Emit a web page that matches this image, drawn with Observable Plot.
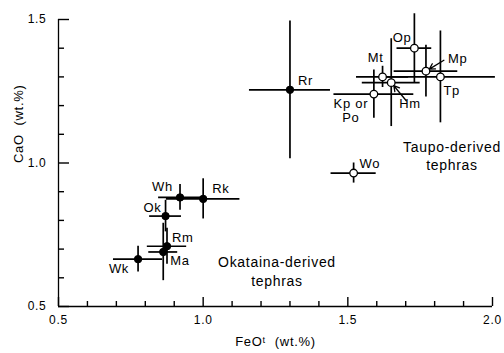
<!DOCTYPE html>
<html><head><meta charset="utf-8">
<script src="https://cdn.jsdelivr.net/npm/d3@7"></script>
<script src="https://cdn.jsdelivr.net/npm/@observablehq/plot@0.6"></script>
<style>
html,body{margin:0;padding:0;background:#fff;}
#chart svg{display:block;}
#chart svg text{letter-spacing:0.7px;}
</style></head><body><div id="chart"></div>
<script>
// ---- data ----
const names  = ["Rr","Op","Mt","Mp","Tp","Hm","Kp or\nPo","Wo","Wh","Rk","Ok","Rm","Ma","Wk"];
const feo    = [1.30, 1.73, 1.62, 1.77, 1.82, 1.65, 1.59, 1.52, 0.92, 1.00, 0.87, 0.875, 0.862, 0.775];
const cao    = [1.255,1.40, 1.30, 1.32, 1.30, 1.28, 1.24, 0.965,0.88, 0.875,0.815,0.71, 0.69, 0.665];
const feoErr = [0.14, 0.06, 0.09, 0.11, 0.19, 0.10, 0.138,0.078,0.074,0.127,0.055,0.068,0.05, 0.085];
const caoErr = [0.24, 0.12, 0.037,0.09, 0.16, 0.153,0.084,0.035,0.045,0.07, 0.055,0.063,0.10, 0.045];
const filled = [true, false,false,false,false,false,false,false,true, true, true, true, true, true];

const annotText = ["Taupo-derived\ntephras", "Okataina-derived\ntephras"];
const annotFeO  = [1.86, 1.255];
const annotCaO  = [1.028, 0.625];

const xLabel = "FeOᵗ  (wt.%)";
const yLabel = "CaO  (wt.%)";
const xMajorTicks = [0.5, 1.0, 1.5, 2.0];
const xMinorTicks = [0.6,0.7,0.8,0.9,1.1,1.2,1.3,1.4,1.6,1.7,1.8,1.9];
const yMajorTicks = [0.5, 1.0, 1.5];
const yMinorTicks = [0.6,0.7,0.8,0.9,1.1,1.2,1.3,1.4];
const xDomain = [0.5, 2.0];
const yDomain = [0.5, 1.5];

// ---- layout ----
const W = 504, H = 353, mL = 58, mR = 12, mT = 19, mB = 47;
const innerW = W - mL - mR, innerH = H - mT - mB;
// tick lengths (px) converted to data units along the perpendicular axis
const yPerPx = (yDomain[1] - yDomain[0]) / innerH;
const xPerPx = (xDomain[1] - xDomain[0]) / innerW;
// label offsets in px: [dx, dy, textAnchor]
const labelLayout = {
  "Rr": [8, -9, "start"],
  "Op": [-3, -11, "end"],
  "Mt": [-7, -19, "middle"],
  "Mp": [22, -13, "start"],
  "Tp": [3, 14, "start"],
  "Hm": [8, 21, "start"],
  "Kp or\nPo": [-23, 16, "middle"],
  "Wo": [6, -10, "start"],
  "Wh": [-7, -11, "end"],
  "Rk": [9, -10, "start"],
  "Ok": [-4, -9, "end"],
  "Rm": [5, -9, "start"],
  "Ma": [7, 8, "start"],
  "Wk": [-9, 9, "end"]
};
// arrow tails relative to the point (data units)
const arrowTails = { "Mp": [0.062, 0.038], "Hm": [0.052, -0.063] };

const data = names.map((n, i) => ({name: n, x: feo[i], y: cao[i], ex: feoErr[i], ey: caoErr[i], filled: filled[i]}));
const annots = annotText.map((t, i) => ({text: t, x: annotFeO[i], y: annotCaO[i]}));

const font = "'Liberation Sans', Arial, Helvetica, sans-serif";
const tickStyle = {stroke: "black", strokeWidth: 1.4};
const marks = [
  Plot.ruleX([xDomain[0]], {stroke: "black", strokeWidth: 1.3}),
  Plot.ruleY([yDomain[0]], {stroke: "black", strokeWidth: 1.3}),
  // inward ticks
  Plot.ruleX(xMinorTicks, {x: d => d, y1: yDomain[0], y2: yDomain[0] + 5 * yPerPx, ...tickStyle}),
  Plot.ruleX(xMajorTicks, {x: d => d, y1: yDomain[0], y2: yDomain[0] + 9 * yPerPx, ...tickStyle}),
  Plot.ruleY(yMinorTicks, {y: d => d, x1: xDomain[0], x2: xDomain[0] + 6 * xPerPx, ...tickStyle}),
  Plot.ruleY(yMajorTicks, {y: d => d, x1: xDomain[0], x2: xDomain[0] + 11 * xPerPx, ...tickStyle}),
  // tick labels
  Plot.axisX(xMajorTicks, {anchor: "bottom", tickSize: 0, tickPadding: 9, tickFormat: d3.format(".1f"), label: null}),
  Plot.axisY(yMajorTicks, {anchor: "left", tickSize: 0, tickPadding: 12, tickFormat: d3.format(".1f"), label: null}),
  // axis titles
  Plot.text([xLabel], {text: d => d, frameAnchor: "bottom", dy: 39, fontSize: 13, fill: "black"}),
  Plot.text([yLabel], {text: d => d, frameAnchor: "left", dx: -40, rotate: -90, fontSize: 13, fill: "black"}),
  // error bars
  Plot.ruleY(data, {y: "y", x1: d => d.x - d.ex, x2: d => d.x + d.ex, stroke: "black", strokeWidth: 1.7}),
  Plot.ruleX(data, {x: "x", y1: d => d.y - d.ey, y2: d => d.y + d.ey, stroke: "black", strokeWidth: 1.7}),
  // points
  Plot.dot(data.filter(d => d.filled), {x: "x", y: "y", r: 3.7, fill: "black", stroke: "black", strokeWidth: 1}),
  Plot.dot(data.filter(d => !d.filled), {x: "x", y: "y", r: 3.8, fill: "white", stroke: "black", strokeWidth: 1.3}),
  // arrows
  ...Object.entries(arrowTails).map(([n, [ax, ay]]) => {
    const d = data.find(e => e.name === n);
    return Plot.arrow([d], {x1: e => e.x + ax, y1: e => e.y + ay, x2: "x", y2: "y",
      stroke: "black", strokeWidth: 1.3, headLength: 7, insetEnd: 4});
  }),
  // point labels
  ...data.map(d => {
    const [dx, dy, anchor] = labelLayout[d.name];
    return Plot.text([d], {x: "x", y: "y", text: "name", dx, dy, textAnchor: anchor,
      fontSize: 13, lineHeight: 1.1, fill: "black"});
  }),
  // group annotations
  Plot.text(annots, {x: "x", y: "y", text: "text", textAnchor: "middle", fontSize: 14, lineHeight: 1.3, fill: "black"})
];

const chart = Plot.plot({
  width: W, height: H,
  marginLeft: mL, marginRight: mR, marginTop: mT, marginBottom: mB,
  x: {domain: xDomain, axis: null},
  y: {domain: yDomain, axis: null},
  style: {fontFamily: font, fontSize: "12px", color: "black", background: "white", overflow: "visible"},
  marks
});
document.getElementById("chart").appendChild(chart);
</script></body></html>
